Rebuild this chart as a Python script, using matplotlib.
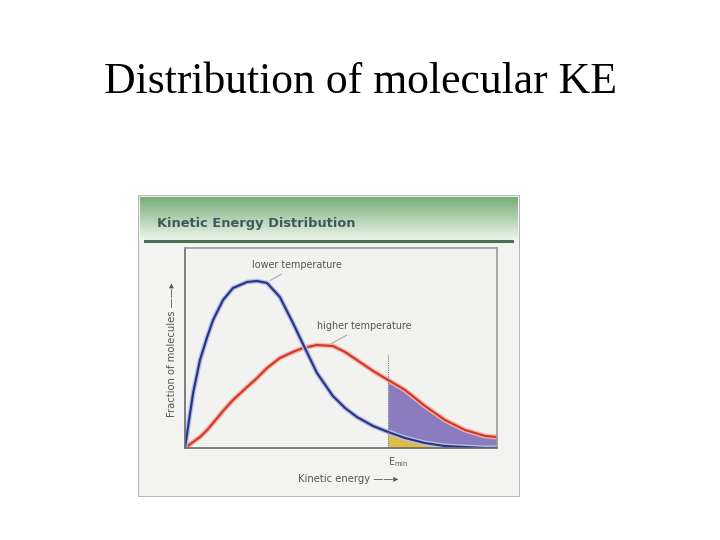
import numpy as np
import matplotlib
matplotlib.use("Agg")
import matplotlib.pyplot as plt
from matplotlib.patches import Rectangle

# values (energy 0-10, fraction 0-1)
energy = [0, 0.13, 0.26, 0.48, 0.71, 0.90, 1.22, 1.54, 1.99, 2.31, 2.63, 3.04, 3.46,
          3.78, 4.23, 4.74, 5.13, 5.51, 6.03, 6.51, 7.05, 7.69, 8.33, 8.97, 9.62, 10.0]
lower_t = [0, 0.14, 0.275, 0.44, 0.555, 0.64, 0.74, 0.80, 0.83, 0.835, 0.825, 0.755, 0.625,
           0.52, 0.375, 0.26, 0.20, 0.155, 0.11, 0.08, 0.05, 0.025, 0.01, 0.005, 0.0, 0.0]
higher_t = [0, 0.015, 0.03, 0.055, 0.09, 0.125, 0.185, 0.24, 0.305, 0.35, 0.40, 0.45, 0.48,
            0.50, 0.515, 0.51, 0.48, 0.44, 0.385, 0.34, 0.29, 0.21, 0.14, 0.09, 0.06, 0.055]
e_min = 6.51

W, H = 720, 540
fig = plt.figure(figsize=(7.2, 5.4), dpi=100)
fig.patch.set_facecolor("white")

fig.text(0.5, 1 - 82 / H, "Distribution of molecular KE", ha="center", va="center",
         family="Liberation Serif", fontsize=31.5, color="black")

# panel drawn in pixel units
px0, py0, px1, py1 = 138, 195, 520, 497
pan = fig.add_axes([px0 / W, 1 - py1 / H, (px1 - px0) / W, (py1 - py0) / H])
pan.set_xlim(px0, px1)
pan.set_ylim(py1, py0)
pan.axis("off")
pan.add_patch(Rectangle((px0, py0), px1 - px0, py1 - py0, facecolor="#f3f3f1",
                        edgecolor="#b8b8b8", lw=1.5))
grad = np.linspace(0, 1, 64).reshape(-1, 1)
top = np.array([0.47, 0.68, 0.47])
bot = np.array([0.93, 0.96, 0.92])
img = top + (bot - top) * grad[:, :, None]
pan.imshow(img, extent=(px0 + 2, px1 - 2, 240, py0 + 2), aspect="auto", zorder=2)
pan.plot([px0 + 7, px1 - 8], [241, 241], color="#4e6e55", lw=2.2, zorder=3)
pan.text(157, 224, "Kinetic Energy Distribution", fontsize=9.4, fontweight="bold",
         color="#3c5a5c", va="center", ha="left", zorder=4)

ax = fig.add_axes([185 / W, 1 - 448 / H, 312 / W, 200 / H])
ax.set_facecolor("#f2f2f0")
ax.set_xlim(0, 10)
ax.set_ylim(0, 1)
ax.set_xticks([])
ax.set_yticks([])
for s in ax.spines.values():
    s.set_color("#9a9a9a")
    s.set_linewidth(1.2)
ax.spines["bottom"].set_color("#6a6a6a")
ax.spines["left"].set_color("#6a6a6a")

x = np.array(energy)
lo = np.array(lower_t)
hi = np.array(higher_t)
m = x >= e_min
ax.fill_between(x[m], lo[m], hi[m], color="#8b7cbf", lw=0)
ax.fill_between(x[m], 0, lo[m], color="#dcbd4c", lw=0)
ax.plot(x, hi, color="#f5b5b0", lw=3.5, solid_joinstyle="round")
ax.plot(x, hi, color="#d33a25", lw=1.6, solid_joinstyle="round")
ax.plot(x, lo, color="#b9c3ea", lw=3.5, solid_joinstyle="round")
ax.plot(x, lo, color="#2c3583", lw=1.6, solid_joinstyle="round")
ax.plot([e_min, e_min], [0, 0.47], color="#777777", lw=0.8, ls=(0, (1, 1)))

ax.annotate("lower temperature", xy=(2.65, 0.83), xytext=(3.6, 0.915),
            fontsize=6.9, color="#555555", ha="center", va="center",
            arrowprops=dict(arrowstyle="-", color="#aaaaaa", lw=0.8))
ax.annotate("higher temperature", xy=(4.6, 0.515), xytext=(5.73, 0.61),
            fontsize=6.9, color="#555555", ha="center", va="center",
            arrowprops=dict(arrowstyle="-", color="#aaaaaa", lw=0.8))

fig.text(388 / W, 1 - 462 / H, r"E$_{\rm min}$", fontsize=6.9, color="#555555",
         ha="left", va="center")
fig.text(298 / W, 1 - 479 / H, "Kinetic energy \u2014\u2014\u25b8", fontsize=7.2,
         color="#555555", ha="left", va="center")
fig.text(172 / W, 1 - 350 / H, "Fraction of molecules \u2014\u2014\u25b8", fontsize=7.2,
         color="#555555", ha="center", va="center", rotation=90)

fig.savefig("out.png", dpi=100, facecolor="white")
